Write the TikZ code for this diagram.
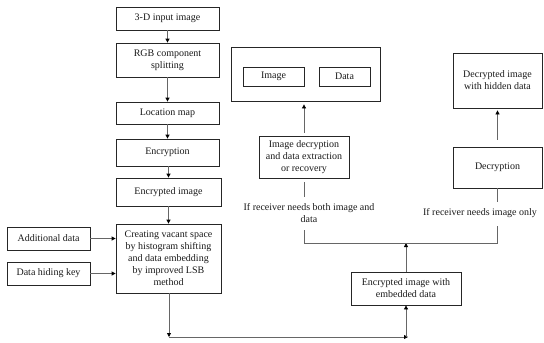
\documentclass[tikz,border=0pt]{standalone}
\usepackage{fontspec}
\setmainfont{Liberation Serif}
\usetikzlibrary{arrows.meta}
\begin{document}
\begin{tikzpicture}[x=1pt,y=-1pt,
  box/.style={draw=black!85,line width=0.8pt,align=center,inner sep=1pt,font=\fontsize{10}{12}\selectfont,text=black!90},
  lbl/.style={align=center,inner sep=1pt,font=\fontsize{10}{12}\selectfont,text=black!90},
  conn/.style={draw=black!60,line width=0.8pt},
  arr/.style={conn,-{Triangle[length=4pt,width=4pt,black]}}]
\useasboundingbox (0,0) rectangle (544,343);
% left chain
\node[box,minimum width=103pt,minimum height=23pt] (in) at (167.5,18.5) {3-D input image};
\node[box,minimum width=103pt,minimum height=34pt] (rgb) at (167.5,60) {RGB component\\splitting};
\node[box,minimum width=103pt,minimum height=22pt] (loc) at (167.5,113) {Location map};
\node[box,minimum width=103pt,minimum height=27pt] (enc) at (167.5,152.5) {Encryption};
\node[box,minimum width=105pt,minimum height=28pt] (encimg) at (168.5,192) {Encrypted image};
\node[box,minimum width=105pt,minimum height=69pt] (create) at (168.5,258.5) {Creating vacant space\\by histogram shifting\\and data embedding\\by improved LSB\\method};
\node[box,minimum width=83pt,minimum height=23pt] (add) at (48.5,238.5) {Additional data};
\node[box,minimum width=83pt,minimum height=23pt] (key) at (48.5,273.5) {Data hiding key};
% middle
\node[draw=black!85,line width=0.8pt,minimum width=149pt,minimum height=54pt] (outer) at (305.5,74) {};
\node[box,minimum width=61pt,minimum height=19pt] (img) at (273.5,76.5) {Image};
\node[box,minimum width=51pt,minimum height=19pt] (dat) at (344.5,76.5) {Data};
\node[box,minimum width=90pt,minimum height=42pt] (dec1) at (304,157) {Image decryption\\and data extraction\\or recovery};
\node[lbl] (l1) at (309,213) {If receiver needs both image and\\data};
% right
\node[box,minimum width=89pt,minimum height=55pt] (dcd) at (497.5,80.5) {Decrypted image\\with hidden data};
\node[box,minimum width=89pt,minimum height=41pt] (dcn) at (497.5,167.5) {Decryption};
\node[lbl] (l2) at (480,213) {If receiver needs image only};
\node[box,minimum width=110pt,minimum height=33pt] (emb) at (406,288.5) {Encrypted image with\\embedded data};
% coordinates
\coordinate (b1) at (169,337);
\coordinate (b2) at (408,337);
\coordinate (b3) at (406,337);
\coordinate (jm) at (406,243);
\coordinate (jl) at (304,243);
\coordinate (jr) at (497.5,243);
\coordinate (jlt) at (304,230);
\coordinate (jrt) at (497.5,226);
\coordinate (d1b) at (304,197);
\coordinate (d2b) at (497.5,202);
% connectors
\draw[arr] (in) -- (rgb);
\draw[arr] (rgb) -- (loc);
\draw[arr] (loc) -- (enc);
\draw[arr] (enc.south -| encimg) -- (encimg);
\draw[arr] (encimg) -- (create);
\draw[arr] (add) -- (add -| create.west);
\draw[arr] (key) -- (key -| create.west);
\draw[arr] (create.south -| b1) -- (b1);
\draw[arr] (b1) -- (b2);
\draw[arr] (b3) -- (emb);
\draw[arr] (emb) -- (jm);
\draw[conn] (jlt) -- (jl) -- (jr) -- (jrt);
\draw[conn,shorten <=4pt] (dec1.south) -- (d1b);
\draw[conn] (dcn.south) -- (d2b);
\draw[arr,shorten <=3pt,shorten >=3pt] (dec1.north) -- (outer.south -| dec1);
\draw[arr,shorten <=7pt,shorten >=2pt] (dcn.north) -- (dcd);
\end{tikzpicture}
\end{document}
